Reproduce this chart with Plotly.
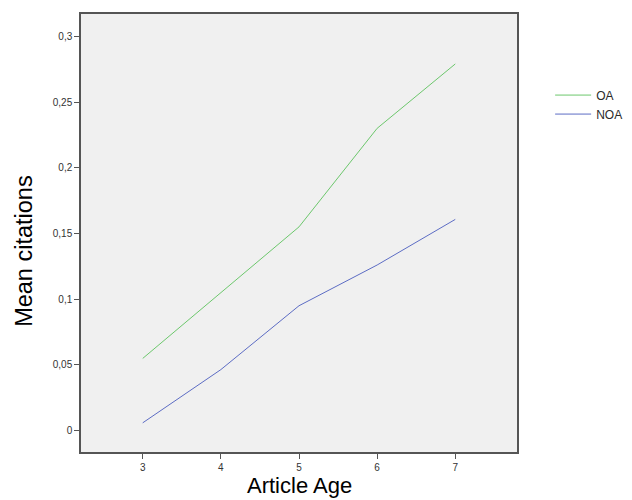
import plotly.graph_objects as go

age = [3, 4, 5, 6, 7]
oa = [0.0549, 0.105, 0.155, 0.230, 0.279]
noa = [0.0059, 0.0464, 0.095, 0.126, 0.1607]
y_tickvals = [0, 0.05, 0.1, 0.15, 0.2, 0.25, 0.3]
y_ticktext = ["0", "0,05", "0,1", "0,15", "0,2", "0,25", "0,3"]
x_tickvals = [3, 4, 5, 6, 7]

FONT = "Liberation Sans, Arial, sans-serif"

fig = go.Figure()
fig.add_trace(go.Scatter(x=age, y=oa, mode="lines", name="OA",
                         line=dict(color="#6CC76C", width=1)))
fig.add_trace(go.Scatter(x=age, y=noa, mode="lines", name="NOA",
                         line=dict(color="#5C6CC4", width=1)))

axis_common = dict(showgrid=False, zeroline=False, showline=True, mirror=True,
                   linecolor="#555555", linewidth=1.5, ticks="outside",
                   ticklen=5, tickcolor="#555555",
                   tickfont=dict(family=FONT, size=10, color="#333333"))

fig.update_layout(
    width=632, height=500,
    margin=dict(l=73, r=123, t=4, b=56),
    plot_bgcolor="#F0F0F0", paper_bgcolor="white",
    font=dict(family=FONT),
    xaxis=dict(range=[2.21, 7.79], tickvals=x_tickvals, **axis_common),
    yaxis=dict(range=[-0.0163, 0.317], tickvals=y_tickvals, ticktext=y_ticktext,
               **axis_common),
    legend=dict(x=1.076, y=0.848, xanchor="left", yanchor="top",
                itemwidth=36,
                font=dict(family=FONT, size=12, color="#2A2A2A"),
                bgcolor="rgba(0,0,0,0)", tracegroupgap=0),
    annotations=[
        dict(text="Mean citations", xref="paper", yref="paper", x=-0.131, y=0.459,
             xanchor="center", yanchor="middle",
             textangle=-90, showarrow=False,
             font=dict(family=FONT, size=23.5, color="#000000")),
        dict(text="Article Age", xref="paper", yref="paper", x=0.5, y=-0.077,
             xanchor="center", yanchor="middle", showarrow=False,
             font=dict(family=FONT, size=22, color="#000000")),
    ],
)

fig.write_html("out.html")
